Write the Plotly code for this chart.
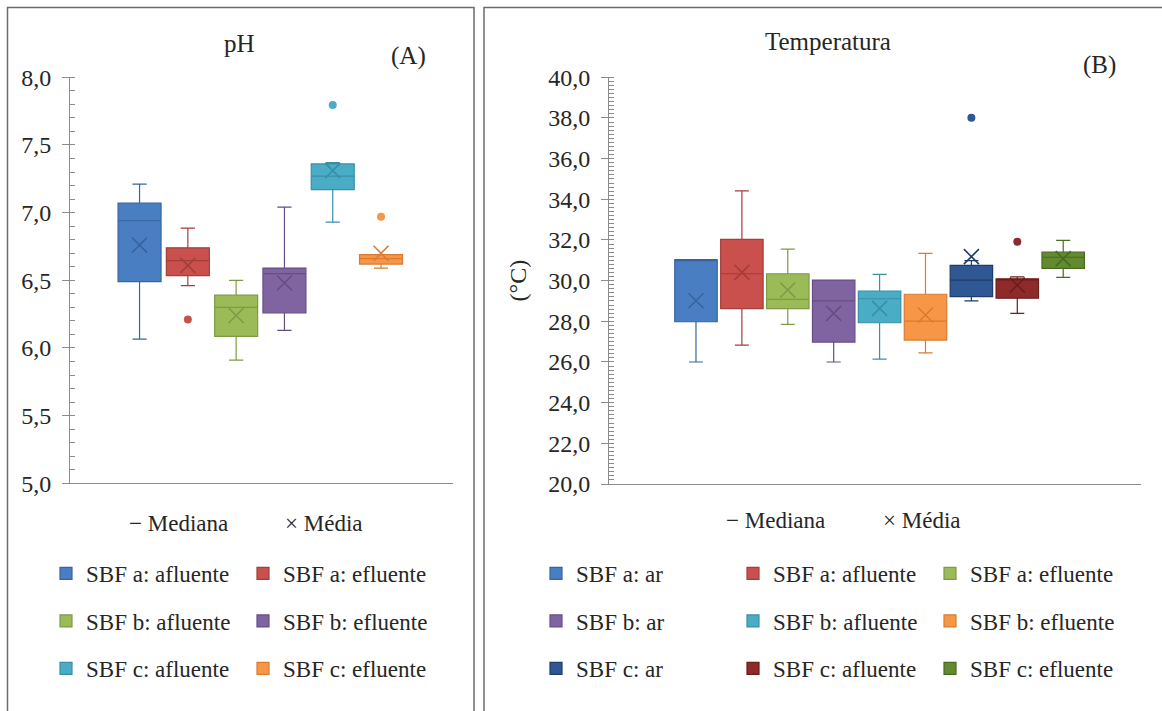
import plotly.graph_objects as go

W, H = 1162, 711

# ---------------- pH panel data ----------------
ph_names = ["SBF a: afluente", "SBF a: efluente", "SBF b: afluente",
            "SBF b: efluente", "SBF c: afluente", "SBF c: efluente"]
ph_low = [6.065, 6.46, 5.91, 6.13, 6.93, 6.59]
ph_q1 = [6.49, 6.535, 6.085, 6.26, 7.17, 6.62]
ph_median = [6.94, 6.645, 6.30, 6.55, 7.27, 6.66]
ph_q3 = [7.07, 6.74, 6.39, 6.59, 7.36, 6.69]
ph_high = [7.21, 6.885, 6.50, 7.04, 7.37, 6.69]
ph_mean = [6.76, 6.61, 6.24, 6.48, 7.31, 6.70]
ph_outliers = [[], [6.21], [], [], [7.795], [6.97]]
ph_fill = ["#4A7EC2", "#C9504D", "#9BBB59", "#8064A2", "#4BACC6", "#F79646"]
ph_line = ["#37649F", "#A33E3B", "#7D9A45", "#654E85", "#3790A8", "#D87C33"]
ph_ticks = [5.0, 5.5, 6.0, 6.5, 7.0, 7.5, 8.0]

# ---------------- Temperature panel data ----------------
t_names = ["SBF a: ar", "SBF a: afluente", "SBF a: efluente",
           "SBF b: ar", "SBF b: afluente", "SBF b: efluente",
           "SBF c: ar", "SBF c: afluente", "SBF c: efluente"]
t_low = [26.0, 26.83, 27.85, 26.0, 26.14, 26.45, 29.01, 28.39, 30.16]
t_q1 = [27.98, 28.62, 28.62, 26.98, 27.93, 27.08, 29.21, 29.14, 30.60]
t_median = [31.0, 30.34, 29.08, 29.01, 29.11, 28.01, 30.03, 30.05, 31.15]
t_q3 = [31.03, 32.03, 30.34, 30.03, 29.49, 29.33, 30.75, 30.09, 31.40]
t_high = [31.03, 34.41, 31.55, 30.03, 30.31, 31.34, 30.98, 30.19, 31.98]
t_mean = [29.01, 30.41, 29.54, 28.39, 28.64, 28.31, 31.18, 29.78, 31.08]
t_outliers = [[], [], [], [], [], [], [38.01], [31.91], []]
t_fill = ["#4A7EC2", "#C9504D", "#9BBB59", "#8064A2", "#4BACC6", "#F79646",
          "#2E5794", "#8E2A2A", "#628A2E"]
t_line = ["#37649F", "#A33E3B", "#7D9A45", "#654E85", "#3790A8", "#D87C33",
          "#1F3D6A", "#6C1D1D", "#4A6A21"]
t_ticks = [20.0, 22.0, 24.0, 26.0, 28.0, 30.0, 32.0, 34.0, 36.0, 38.0, 40.0]

FONT = "Liberation Serif"
TXT = "#262626"
AX = "#8c8c8c"


def px(x):
    return x / W


def py(y):
    return 1 - y / H


fig = go.Figure()


def add_panel(names, low, q1, med, q3, high, mean, outl, fill, line,
              xaxis, yaxis, legends, ncol, width):
    for i, n in enumerate(names):
        leg = legends[i // ncol]
        fig.add_trace(go.Box(
            x=[n], q1=[q1[i]], median=[med[i]], q3=[q3[i]],
            lowerfence=[low[i]], upperfence=[high[i]],
            name=n, fillcolor=fill[i], line=dict(color=line[i], width=1.2),
            whiskerwidth=0.33, width=width, boxpoints=False,
            xaxis=xaxis, yaxis=yaxis, legend=leg, showlegend=True,
            hoverinfo="skip"))
        fig.add_trace(go.Scatter(
            x=[n], y=[mean[i]], mode="markers",
            marker=dict(symbol="x-thin", size=15,
                        line=dict(color=line[i], width=1.6)),
            xaxis=xaxis, yaxis=yaxis, showlegend=False, hoverinfo="skip"))
        if outl[i]:
            fig.add_trace(go.Scatter(
                x=[n] * len(outl[i]), y=outl[i], mode="markers",
                marker=dict(symbol="circle", size=8, color=fill[i]),
                xaxis=xaxis, yaxis=yaxis, showlegend=False, hoverinfo="skip"))


add_panel(ph_names, ph_low, ph_q1, ph_median, ph_q3, ph_high, ph_mean,
          ph_outliers, ph_fill, ph_line, "x", "y",
          ["legend", "legend2", "legend3"], 2, 0.89)
add_panel(t_names, t_low, t_q1, t_median, t_q3, t_high, t_mean,
          t_outliers, t_fill, t_line, "x2", "y2",
          ["legend4", "legend5", "legend6"], 3, 0.925)

common_y = dict(
    showline=True, linecolor=AX, linewidth=1, showgrid=False, zeroline=False,
    ticks="outside", ticklen=7, tickcolor=AX, tickwidth=1,
    tickfont=dict(family=FONT, size=24, color=TXT), tickformat=".1f",
    ticklabelstandoff=6, automargin=False,
)
common_x = dict(showline=True, linecolor=AX, linewidth=1, showgrid=False,
                zeroline=False, showticklabels=False, ticks="",
                type="category", automargin=False)

fig.update_layout(
    xaxis=dict(domain=[px(70), px(453)], anchor="y",
               categoryorder="array", categoryarray=ph_names,
               range=[-1.44, 6.49], **common_x),
    yaxis=dict(domain=[py(483.3), py(77.3)], anchor="x", range=[5, 8],
               tickvals=ph_ticks,
               minor=dict(dtick=0.1, ticks="inside", ticklen=5,
                          tickcolor=AX, showgrid=False),
               **common_y),
    xaxis2=dict(domain=[px(609), px(1141)], anchor="y2",
                categoryorder="array", categoryarray=t_names,
                range=[-1.895, 9.695], **common_x),
    yaxis2=dict(domain=[py(484), py(77.3)], anchor="x2", range=[20, 40],
                tickvals=t_ticks,
                minor=dict(dtick=0.2, ticks="inside", ticklen=5,
                           tickcolor=AX, showgrid=False),
                title=dict(text="(°C)", font=dict(family=FONT, size=24,
                                                   color=TXT), standoff=14),
                **common_y),
    boxmode="overlay",
    separators=",.",
    width=W, height=H,
    margin=dict(l=0, r=0, t=0, b=0, autoexpand=False),
    paper_bgcolor="white", plot_bgcolor="white",
    font=dict(family=FONT, color=TXT),
    showlegend=True,
)

leg_font = dict(family=FONT, size=23, color=TXT)
leg_common = dict(orientation="h", xanchor="left", yanchor="middle",
                  entrywidth=152, entrywidthmode="pixels",
                  bgcolor="rgba(0,0,0,0)", font=leg_font,
                  traceorder="normal", itemclick=False,
                  itemdoubleclick=False)
rows_y = [573.5, 621, 668.5]
fig.update_layout(
    legend=dict(x=px(46), y=py(rows_y[0]), **leg_common),
    legend2=dict(x=px(46), y=py(rows_y[1]), **leg_common),
    legend3=dict(x=px(46), y=py(rows_y[2]), **leg_common),
    legend4=dict(x=px(536), y=py(rows_y[0]), **leg_common),
    legend5=dict(x=px(536), y=py(rows_y[1]), **leg_common),
    legend6=dict(x=px(536), y=py(rows_y[2]), **leg_common),
)

ann = [
    ("pH", 239.5, 43, 25), ("(A)", 408.7, 56.5, 25),
    ("Temperatura", 828, 41, 25), ("(B)", 1099, 65.5, 25),
    ("− Mediana", 178, 523, 23), ("× Média", 323.7, 523, 23),
    ("− Mediana", 775.7, 520, 23), ("× Média", 921, 520, 23),
]
for text, x, y, s in ann:
    fig.add_annotation(text=text, x=px(x), y=py(y), xref="paper",
                       yref="paper", showarrow=False, xanchor="center",
                       yanchor="middle",
                       font=dict(family=FONT, size=s, color=TXT))

# panel frames
fig.add_shape(type="rect", xref="paper", yref="paper",
              x0=px(7.5), x1=px(474), y0=-0.02, y1=py(7.5),
              line=dict(color="#6b6b6b", width=1.5))
fig.add_shape(type="rect", xref="paper", yref="paper",
              x0=px(484), x1=1.02, y0=-0.02, y1=py(7.5),
              line=dict(color="#6b6b6b", width=1.5))

fig.write_html("out.html",
               config={"displayModeBar": False},
               post_script="document.body.style.margin='0';"
                           "document.body.style.overflow='hidden';")
